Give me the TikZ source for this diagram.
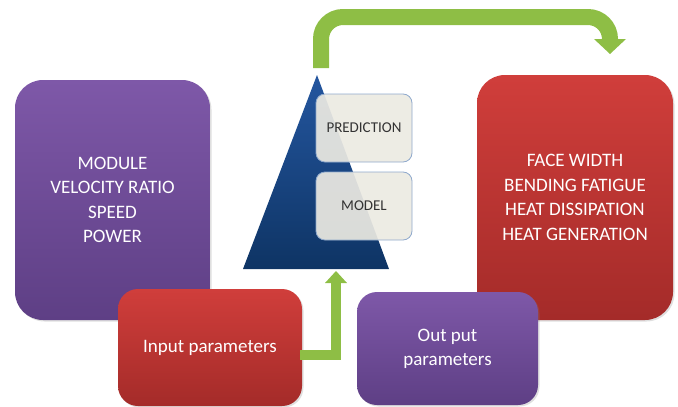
\documentclass[tikz,border=0pt]{standalone}
\usepackage{fontspec}
\setmainfont{Carlito}
\usetikzlibrary{shadows,calc}
\definecolor{purT}{HTML}{7E58A8}
\definecolor{purB}{HTML}{5E3F85}
\definecolor{redT}{HTML}{D03E3B}
\definecolor{redB}{HTML}{A42B29}
\definecolor{bluT}{HTML}{24569F}
\definecolor{bluB}{HTML}{0E3464}
\definecolor{grn}{HTML}{8EBE45}
\definecolor{grnD}{HTML}{74A034}
\definecolor{beige}{HTML}{ECEAE2}
\definecolor{bordr}{HTML}{8FA9CC}
\definecolor{txtg}{HTML}{333333}
\begin{document}
\begin{tikzpicture}[x=1pt,y=-1pt,
  bigbox/.style={rounded corners=28pt, text=white, align=center, inner sep=0pt,
    font=\fontsize{19}{24.5}\selectfont,
    drop shadow={opacity=0.25, shadow xshift=1.5pt, shadow yshift=-1.5pt}},
  smallbox/.style={rounded corners=20pt, text=white, align=center, inner sep=0pt,
    font=\fontsize{19}{24}\selectfont,
    drop shadow={opacity=0.25, shadow xshift=1.5pt, shadow yshift=-1.5pt}},
  purfill/.style={top color=purT, bottom color=purB},
  redfill/.style={top color=redT, bottom color=redB},
  layerbox/.style={rounded corners=9pt, fill=beige, fill opacity=0.92, draw=bordr,
    line width=0.8pt, text=txtg, text opacity=1, font=\fontsize{15}{17}\selectfont,
    minimum width=96pt, minimum height=68pt, inner sep=0pt},
  grnline/.style={draw=grn, line width=16pt},
  grnthin/.style={draw=grn, line width=10pt}
]
\useasboundingbox (0,0) rectangle (678,407);

% left purple box
\node[bigbox, purfill, minimum width=195pt, minimum height=240pt] (inlist) at (112.5,200)
  {MODULE\\VELOCITY RATIO\\SPEED\\POWER};

% input parameters
\node[smallbox, redfill, minimum width=184pt, minimum height=117pt] (inpar) at (210,347.5)
  {Input parameters};

% triangle
\coordinate (apex) at (317,75);
\coordinate (bl) at (243,269);
\coordinate (br) at (389,269);
\shade[top color=bluT, bottom color=bluB] (apex) -- (br) -- (bl) -- cycle;

% prediction / model
\node[layerbox] (pred) at (364,128) {PREDICTION};
\node[layerbox] (model) at (364,206) {MODEL};

% right red box
\node[bigbox, redfill, minimum width=196pt, minimum height=245pt] (outlist) at (575,197.5)
  {FACE WIDTH\\BENDING FATIGUE\\HEAT DISSIPATION\\HEAT GENERATION};

% output parameters
\node[smallbox, purfill, minimum width=181pt, minimum height=113pt] (outpar) at (447.5,348.5)
  {Out put\\parameters};

% top green arrow
\coordinate (ts) at (321,68);
\coordinate (te) at (610,40);
\draw[grnline, rounded corners=22pt] (ts) -- (ts |- 0,17) -- (te |- 0,17) -- (te);
\fill[grn] ($(te)+(-16,-1)$) -- ($(te)+(16,-1)$) -- ($(te)+(0,14)$) -- cycle;

% bottom green arrow
\coordinate (bs) at ($(inpar.east)+(0,7.5)$);
\coordinate (be) at (336,283);
\draw[grnthin] ($(bs)+(-2,0)$) -- (be |- bs) -- (be);
\fill[grn] ($(be)+(-11,0)$) -- ($(be)+(11,0)$) -- ($(be)+(0,-12)$) -- cycle;
\end{tikzpicture}
\end{document}
